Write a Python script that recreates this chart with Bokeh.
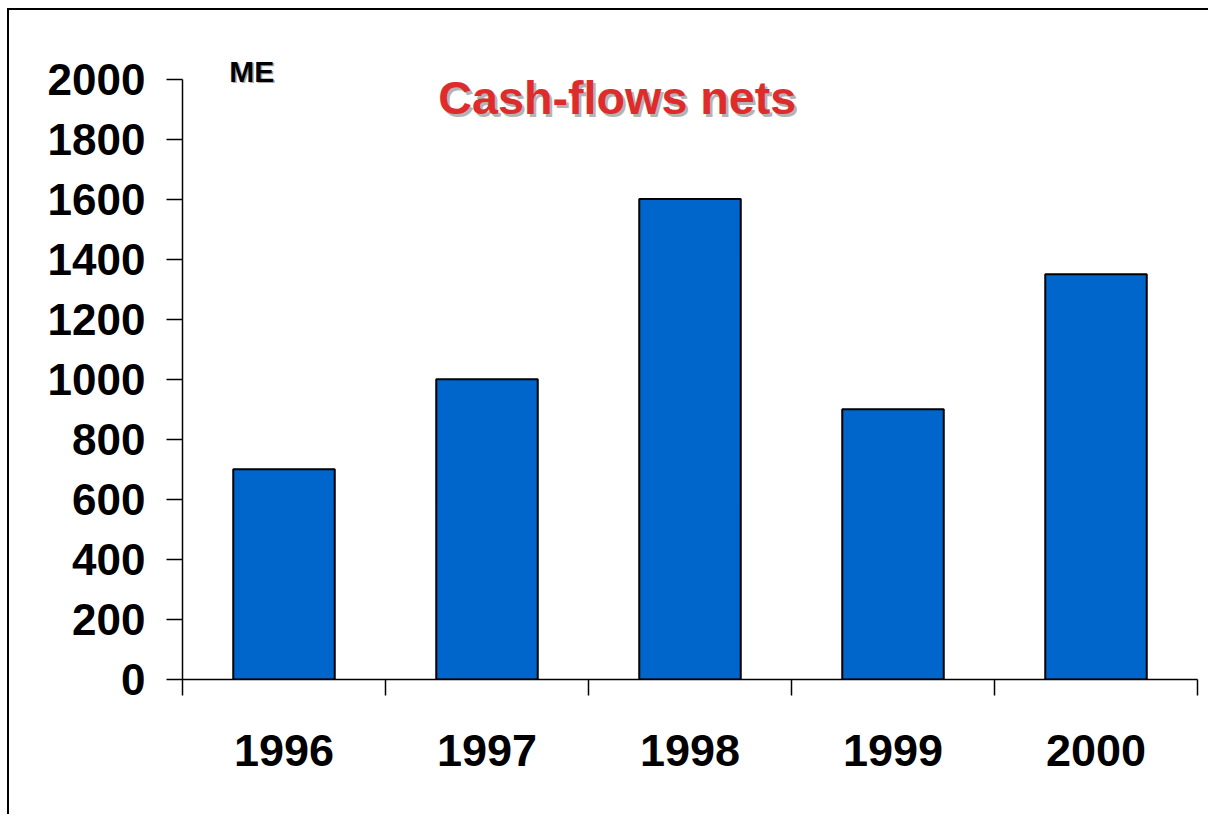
from bokeh.plotting import figure
from bokeh.models import Range1d, FixedTicker, Label, Spacer
from bokeh.layouts import column, row
from bokeh.embed import file_html
from bokeh.resources import INLINE

years = [1996, 1997, 1998, 1999, 2000]
values = [700, 1000, 1600, 900, 1350]
y_ticks = [0, 200, 400, 600, 800, 1000, 1200, 1400, 1600, 1800, 2000]
title_text = "Cash-flows nets"
unit_text = "ME"

FONT = "Liberation Sans"

# frame extends above the 2000 tick so the unit label / title are not clipped
Y_TOP = 2000 * 668 / 600.5

p = figure(width=1201, height=806, output_backend="svg", toolbar_location=None,
           x_range=Range1d(years[0] - 0.5, years[-1] + 0.5),
           y_range=Range1d(0, Y_TOP),
           min_border_left=173, min_border_right=13, min_border_top=1, min_border_bottom=137,
           styles={"border-left": "2px solid black", "border-top": "2px solid black"})

p.vbar(x=years, top=values, width=0.5, bottom=0,
       fill_color="#0066CC", line_color="black", line_width=2)

p.outline_line_color = None
p.xgrid.visible = False
p.ygrid.visible = False
p.background_fill_color = "white"
p.border_fill_color = "white"

# y axis
ya = p.yaxis[0]
ya.bounds = (0, 2000)
ya.ticker = FixedTicker(ticks=y_ticks, minor_ticks=[])
ya.major_tick_out = 16
ya.major_tick_in = 0
ya.minor_tick_out = 0
ya.minor_tick_in = 0
ya.axis_line_width = 1.5
ya.major_tick_line_width = 1.5
ya.major_label_text_font = FONT
ya.major_label_text_font_style = "bold"
ya.major_label_text_font_size = "44px"
ya.major_label_text_color = "black"
ya.major_label_standoff = 21

# x axis: labels at centres, ticks at category boundaries
xa = p.xaxis[0]
bounds = [y - 0.5 for y in years] + [years[-1] + 0.5]
xa.ticker = FixedTicker(ticks=years, minor_ticks=bounds)
xa.major_tick_out = 0
xa.major_tick_in = 0
xa.minor_tick_out = 16
xa.minor_tick_in = 0
xa.minor_tick_line_width = 1.5
xa.minor_tick_line_color = "black"
xa.axis_line_width = 1.5
xa.major_label_text_font = FONT
xa.major_label_text_font_style = "bold"
xa.major_label_text_font_size = "45px"
xa.major_label_text_color = "black"
xa.major_label_standoff = 39
xa.major_label_overrides = {y: str(y) for y in years}

# unit label
p.add_layout(Label(x=1995.73, y=2026, text=unit_text, text_font=FONT, text_font_style="bold",
                   text_font_size="30px", text_color="#AAAAAA", x_offset=1.5, y_offset=-1.5,
                   text_baseline="alphabetic"))
p.add_layout(Label(x=1995.73, y=2026, text=unit_text, text_font=FONT, text_font_style="bold",
                   text_font_size="30px", text_color="black", text_baseline="alphabetic"))

# title with shadow
p.add_layout(Label(x=1997.642, y=1936, text=title_text, text_font=FONT, text_font_style="bold",
                   text_font_size="46.7px", text_color="#B4B4B4", x_offset=2.5, y_offset=-2.5,
                   text_align="center", text_baseline="alphabetic"))
p.add_layout(Label(x=1997.642, y=1936, text=title_text, text_font=FONT, text_font_style="bold",
                   text_font_size="46.7px", text_color="#DE2C2C",
                   text_align="center", text_baseline="alphabetic"))

layout = column(Spacer(height=8, width=1210), row(Spacer(width=7, height=808), p))

open("out.html", "w").write(file_html(layout, INLINE))
